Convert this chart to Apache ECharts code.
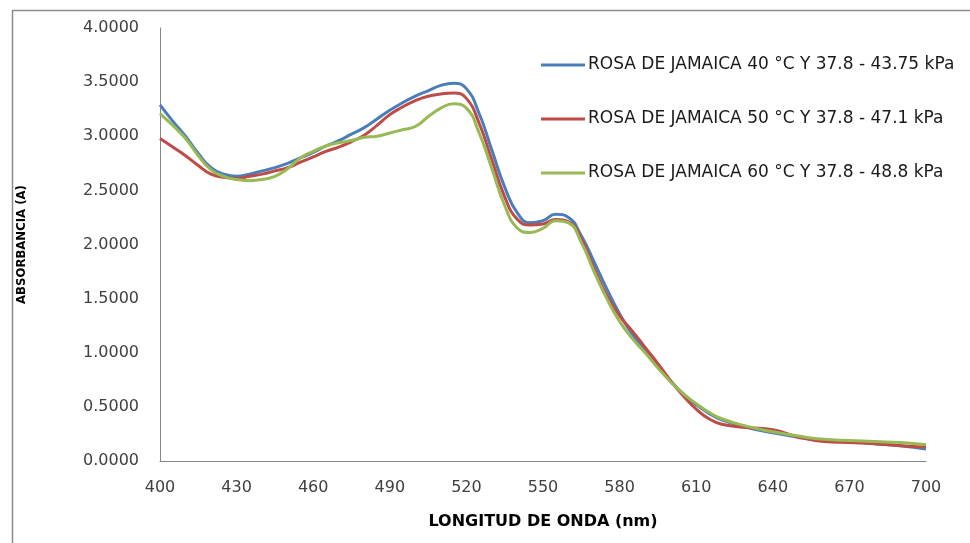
<!DOCTYPE html>
<html>
<head>
<meta charset="utf-8">
<script src="https://cdn.jsdelivr.net/npm/echarts@6/dist/echarts.min.js"></script>
<style>
  html, body { margin: 0; padding: 0; background: #fff; }
  #main { width: 970px; height: 543px; }
</style>
</head>
<body>
<div id="main"></div>
<script>
// longitud de onda (nm)
var wavelengths = [400, 405, 410, 415, 420, 425, 430, 435, 440, 445, 450, 455, 460, 465, 470, 475, 480, 485, 490, 495,
  500, 505, 510, 515, 520, 525, 530, 535, 540, 545, 550, 555, 560, 565, 570, 575, 580, 585, 590, 595,
  600, 605, 610, 615, 620, 630, 640, 650, 660, 670, 680, 690, 700];

var abs40 = [3.29, 3.14, 3.00, 2.84, 2.71, 2.65, 2.63, 2.65, 2.68, 2.71, 2.75, 2.80, 2.85, 2.91, 2.96, 3.02, 3.08, 3.16, 3.24, 3.31,
  3.37, 3.42, 3.47, 3.49, 3.44, 3.21, 2.87, 2.53, 2.29, 2.20, 2.22, 2.28, 2.25, 2.08, 1.84, 1.59, 1.36, 1.17, 1.03, 0.89,
  0.74, 0.62, 0.52, 0.44, 0.38, 0.31, 0.26, 0.22, 0.19, 0.18, 0.16, 0.14, 0.11];

var abs50 = [2.98, 2.90, 2.82, 2.73, 2.65, 2.62, 2.61, 2.63, 2.65, 2.68, 2.71, 2.76, 2.81, 2.86, 2.90, 2.95, 3.01, 3.10, 3.20, 3.27,
  3.33, 3.37, 3.39, 3.40, 3.35, 3.12, 2.78, 2.44, 2.23, 2.18, 2.19, 2.23, 2.21, 2.05, 1.78, 1.53, 1.34, 1.20, 1.05, 0.90,
  0.74, 0.60, 0.48, 0.39, 0.34, 0.31, 0.29, 0.22, 0.18, 0.17, 0.16, 0.14, 0.13];

var abs60 = [3.21, 3.10, 2.98, 2.82, 2.69, 2.63, 2.60, 2.59, 2.60, 2.63, 2.70, 2.80, 2.86, 2.91, 2.94, 2.96, 2.99, 3.00, 3.03, 3.06,
  3.09, 3.18, 3.26, 3.30, 3.26, 3.03, 2.70, 2.36, 2.15, 2.11, 2.15, 2.22, 2.20, 2.02, 1.75, 1.50, 1.29, 1.13, 1.00, 0.86,
  0.73, 0.62, 0.53, 0.45, 0.39, 0.32, 0.27, 0.23, 0.20, 0.19, 0.18, 0.17, 0.15];

var seriesNames = [
  "ROSA DE JAMAICA 40 °C Y 37.8 - 43.75 kPa",
  "ROSA DE JAMAICA 50 °C Y 37.8 - 47.1 kPa",
  "ROSA DE JAMAICA 60 °C Y 37.8 - 48.8 kPa"
];
var colors = ["#4a7ebb", "#be4b48", "#98b954"];

function pairs(vals) {
  return wavelengths.map(function (w, i) { return [w, vals[i]]; });
}

var myChart = echarts.init(document.getElementById("main"));
myChart.setOption({
  animation: false,
  color: colors,
  textStyle: { fontFamily: "DejaVu Sans" },
  graphic: [{
    type: "rect",
    left: 10, top: 8,
    shape: { width: 1000, height: 600 },
    style: { fill: "none", stroke: "#8c8c8c", lineWidth: 1.5 },
    silent: true
  }],
  grid: { left: 160, right: 44, top: 28, bottom: 82 },
  legend: {
    orient: "vertical",
    left: 536,
    top: 50,
    itemGap: 34,
    itemWidth: 44,
    itemHeight: 3,
    icon: "rect",
    textStyle: { fontSize: 17, color: "#1a1a1a", lineHeight: 20, padding: [0, 0, 0, -2] },
    data: seriesNames
  },
  xAxis: {
    type: "value",
    min: 400, max: 700, interval: 30,
    name: "LONGITUD DE ONDA (nm)",
    nameLocation: "middle",
    nameGap: 53,
    nameTextStyle: { fontWeight: "bold", fontSize: 16, color: "#000" },
    axisLine: { lineStyle: { color: "#868686" } },
    axisTick: { show: false },
    splitLine: { show: false },
    axisLabel: { margin: 19, fontSize: 16, color: "#404040" }
  },
  yAxis: {
    type: "value",
    min: 0, max: 4, interval: 0.5,
    name: "ABSORBANCIA (A)",
    nameLocation: "middle",
    nameGap: 132,
    nameTextStyle: { fontWeight: "bold", fontSize: 13, color: "#000", fontFamily: "DejaVu Sans Condensed, Liberation Sans" },
    axisLine: { show: true, lineStyle: { color: "#868686" } },
    axisTick: { show: false },
    splitLine: { show: false },
    axisLabel: { margin: 21, fontSize: 16, color: "#404040", formatter: function (v) { return v.toFixed(4); } }
  },
  series: [abs40, abs50, abs60].map(function (vals, i) {
    return {
      name: seriesNames[i],
      type: "line",
      smooth: true,
      showSymbol: false,
      data: pairs(vals),
      lineStyle: { width: 3, color: colors[i] }
    };
  })
});
</script>
</body>
</html>
